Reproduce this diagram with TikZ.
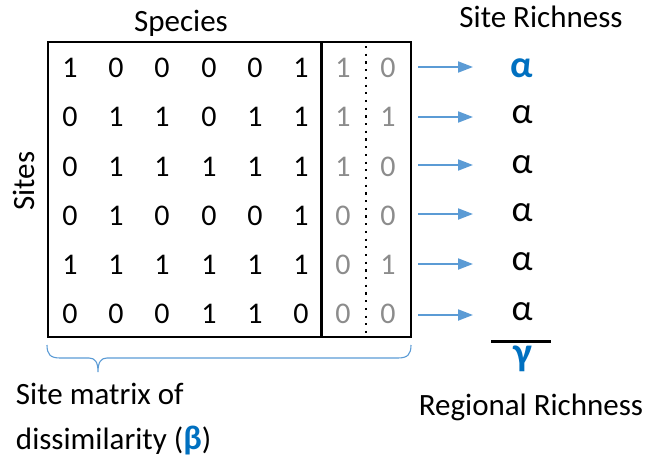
\documentclass[tikz,border=0pt]{standalone}
\usepackage{fontspec}
\setmainfont{Carlito}
\usetikzlibrary{arrows.meta}
\definecolor{bluetxt}{HTML}{0070C0}
\definecolor{arrowblue}{HTML}{5B9BD5}
\definecolor{graytxt}{HTML}{8C8C8C}
\begin{document}
\begin{tikzpicture}[x=1pt,y=-1pt,
  every node/.style={inner sep=0pt,outer sep=0pt},
  cell/.style={font=\fontsize{30}{32}\selectfont,anchor=center},
  ghost/.style={cell,text=graytxt},
  label/.style={font=\fontsize{31}{34}\selectfont,anchor=base},
  greek/.style={font=\fontsize{37}{40}\selectfont,anchor=center},
  bluegreek/.style={font=\fontsize{38}{40}\selectfont\bfseries,text=bluetxt,anchor=center},
  rowarrow/.style={draw=arrowblue,line width=2pt,-{Triangle[length=15pt,width=11pt]}},
  frame/.style={draw=black,line width=2.6pt},
]
\useasboundingbox (0,0) rectangle (649,458);
% matrix frame
\draw[frame] (48,42) rectangle (411,337);
\draw[frame] (321.5,42) -- (321.5,337);
\draw[line width=2.2pt,dash pattern=on 2.2pt off 5.5pt] (366,46) -- (366,337);
% cells
\def\colx{{70,116,162,209,255,301,343,388}}
\def\rowy{{68,117,167,216,265,314}}
\foreach \r/\vals in {1/{1,0,0,0,0,1,1,0},2/{0,1,1,0,1,1,1,1},3/{0,1,1,1,1,1,1,0},4/{0,1,0,0,0,1,0,0},5/{1,1,1,1,1,1,0,1},6/{0,0,0,1,1,0,0,0}}{
  \foreach \v [count=\c] in \vals {
    \pgfmathsetmacro{\xx}{\colx[\c-1]}
    \pgfmathsetmacro{\yy}{\rowy[\r-1]}
    \ifnum\c>6
      \node[ghost] (c\r-\c) at (\xx,\yy) {\v};
    \else
      \node[cell] (c\r-\c) at (\xx,\yy) {\v};
    \fi
  }
}
% labels
\node[label] (species) at (181,31) {Species};
\node[label,anchor=center,rotate=90] (sites) at (24,181) {Sites};
\node[label] (siterich) at (541,27) {Site Richness};
% alphas and arrows
\node[bluegreek] (a1) at (522,68) {α};
\foreach \r/\y in {2/115,3/165,4/213,5/262,6/312}{
  \node[greek] (a\r) at (522,\y) {α};
}
\foreach \r/\y in {1/67,2/117,3/165,4/214,5/264,6/315}{
  \coordinate (s\r) at (418,\y);
  \coordinate (e\r) at (473,\y);
  \draw[rowarrow] (s\r) -- (e\r);
}
% sum line and gamma
\coordinate (sumL) at (491,341);
\coordinate (sumR) at (551,341);
\draw[line width=3pt] (sumL) -- (sumR);
\node[bluegreek,font=\fontsize{40}{42}\selectfont\bfseries] (gamma) at (523,359) {γ};
\node[label] (regrich) at (531,415) {Regional Richness};
% brace
\draw[arrowblue,line width=1.1pt] (47,345) .. controls (47,354) and (50,358) .. (60,358)
  -- (89,358) .. controls (95,358) and (98,362) .. (98,372)
  .. controls (98,362) and (101,358) .. (107,358)
  -- (398,358) .. controls (408,358) and (411,354) .. (411,345);
\node[label,anchor=base west] (sm1) at (16,404) {Site matrix of};
\node[label,anchor=base west] (sm2) at (16,449) {dissimilarity ({\fontsize{34}{36}\selectfont\bfseries\color{bluetxt}β})};
\end{tikzpicture}
\end{document}
